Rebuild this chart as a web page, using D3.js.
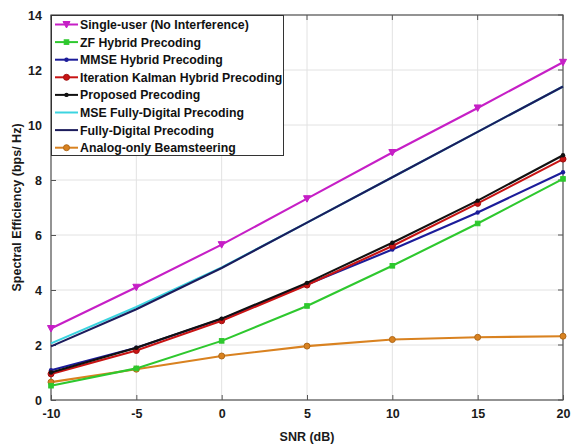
<!DOCTYPE html>
<html>
<head>
<meta charset="utf-8">
<script src="https://cdn.jsdelivr.net/npm/d3@7"></script>
<style>
  body { margin: 0; background: #fff; }
  svg { font-family: "Liberation Sans", Arial, sans-serif; font-weight: bold; }
</style>
</head>
<body>
<svg id="chart"></svg>
<script>
// SNR values and tick labels
const snr = [-10, -5, 0, 5, 10, 15, 20];
const xTicks = [-10, -5, 0, 5, 10, 15, 20];
const yTicks = [0, 2, 4, 6, 8, 10, 12, 14];

// series values
const singleUser = [2.6, 4.1, 5.65, 7.32, 9.0, 10.62, 12.28];
const zfHybrid = [0.52, 1.15, 2.15, 3.42, 4.88, 6.42, 8.04];
const mmseHybrid = [1.08, 1.9, 2.95, 4.2, 5.47, 6.82, 8.28];
const kalmanHybrid = [0.95, 1.8, 2.88, 4.18, 5.6, 7.15, 8.76];
const proposed = [1.0, 1.9, 2.96, 4.26, 5.72, 7.25, 8.9];
const mseDigital = [2.06, 3.38, 4.82, 6.45, 8.1, 9.75, 11.4];
const fullyDigital = [1.95, 3.3, 4.8, 6.45, 8.1, 9.75, 11.4];
const analogOnly = [0.65, 1.12, 1.6, 1.96, 2.2, 2.28, 2.32];

const series = [
  { name: "Single-user (No Interference)", values: singleUser, color: "#c61fc6", marker: "tri" },
  { name: "ZF Hybrid Precoding", values: zfHybrid, color: "#2ec82e", marker: "square" },
  { name: "MMSE Hybrid Precoding", values: mmseHybrid, color: "#1c1c9a", marker: "dot" },
  { name: "Iteration Kalman Hybrid Precoding", values: kalmanHybrid, color: "#c81414", marker: "circle" },
  { name: "Proposed Precoding", values: proposed, color: "#111111", marker: "dot" },
  { name: "MSE Fully-Digital Precoding", values: mseDigital, color: "#3cd4e0", marker: "none" },
  { name: "Fully-Digital Precoding", values: fullyDigital, color: "#1c1c5c", marker: "none" },
  { name: "Analog-only Beamsteering", values: analogOnly, color: "#d98220", marker: "circle" }
];

const W = 576, H = 448;
const margin = { top: 15, right: 13, bottom: 48, left: 51 };
const innerW = W - margin.left - margin.right;
const innerH = H - margin.top - margin.bottom;

const svg = d3.select("#chart").attr("width", W).attr("height", H);
const g = svg.append("g").attr("transform", `translate(${margin.left},${margin.top})`);

const x = d3.scaleLinear().domain([-10, 20]).range([0, innerW]);
const y = d3.scaleLinear().domain([0, 14]).range([innerH, 0]);

// grid
g.append("g").selectAll("line").data(xTicks).join("line")
  .attr("x1", d => x(d)).attr("x2", d => x(d))
  .attr("y1", 0).attr("y2", innerH)
  .attr("stroke", "#e2e2e2");
g.append("g").selectAll("line").data(yTicks).join("line")
  .attr("x1", 0).attr("x2", innerW)
  .attr("y1", d => y(d)).attr("y2", d => y(d))
  .attr("stroke", "#e2e2e2");

// axes
const xAxis = g.append("g").attr("transform", `translate(0,${innerH})`)
  .call(d3.axisBottom(x).tickValues(xTicks).tickFormat(d => String(d))
    .tickSize(-5).tickPadding(9).tickSizeOuter(0));
const yAxis = g.append("g")
  .call(d3.axisLeft(y).tickValues(yTicks).tickFormat(d => String(d))
    .tickSize(-5).tickPadding(9).tickSizeOuter(0));
[xAxis, yAxis].forEach(a => {
  a.select(".domain").remove();
  a.selectAll("line").attr("stroke", "#555");
  a.selectAll("text").attr("font-size", 12.5).attr("font-weight", "bold").attr("fill", "#1a1a1a")
    .attr("font-family", "Liberation Sans, Arial, sans-serif");
});
// top/right ticks
g.append("g").selectAll("line").data(xTicks).join("line")
  .attr("x1", d => x(d)).attr("x2", d => x(d)).attr("y1", 0).attr("y2", 5).attr("stroke", "#555");
g.append("g").selectAll("line").data(yTicks).join("line")
  .attr("x1", innerW).attr("x2", innerW - 5).attr("y1", d => y(d)).attr("y2", d => y(d)).attr("stroke", "#555");

g.append("rect").attr("width", innerW).attr("height", innerH)
  .attr("fill", "none").attr("stroke", "#555").attr("stroke-width", 1.2);

// lines
const line = d3.line().x((d, i) => x(snr[i])).y(d => y(d));

function drawMarker(sel, s, cx, cy) {
  if (s.marker === "tri") {
    sel.append("path").attr("d", `M${cx - 3.5},${cy - 3}L${cx + 3.5},${cy - 3}L${cx},${cy + 3.5}Z`)
      .attr("fill", s.color).attr("stroke", s.color);
  } else if (s.marker === "square") {
    sel.append("rect").attr("x", cx - 2.3).attr("y", cy - 2.3).attr("width", 4.6).attr("height", 4.6)
      .attr("fill", s.color).attr("stroke", s.color);
  } else if (s.marker === "dot") {
    sel.append("circle").attr("cx", cx).attr("cy", cy).attr("r", 2.2).attr("fill", s.color);
  } else if (s.marker === "circle") {
    sel.append("circle").attr("cx", cx).attr("cy", cy).attr("r", 3)
      .attr("fill", s.color).attr("stroke", d3.color(s.color).darker(0.6)).attr("stroke-width", 1);
  }
}

const drawOrder = [7, 1, 2, 3, 4, 5, 6, 0];
drawOrder.forEach(k => {
  const s = series[k];
  g.append("path").datum(s.values)
    .attr("fill", "none").attr("stroke", s.color).attr("stroke-width", 2.1)
    .attr("d", line);
  const mg = g.append("g");
  s.values.forEach((v, i) => drawMarker(mg, s, x(snr[i]), y(v)));
});

// legend
const lg = g.append("g");
const rowH = 17.6;
lg.append("rect").attr("x", 0.5).attr("y", 0.5).attr("width", 232).attr("height", 140)
  .attr("fill", "#fff").attr("stroke", "#333").attr("stroke-width", 1);
series.forEach((s, i) => {
  const cy = 9.5 + i * rowH;
  lg.append("line").attr("x1", 4).attr("x2", 27).attr("y1", cy).attr("y2", cy)
    .attr("stroke", s.color).attr("stroke-width", 2);
  drawMarker(lg, s, 15.5, cy);
  lg.append("text").attr("x", 29).attr("y", cy + 4.5).attr("font-size", 12.3)
    .attr("fill", "#111").text(s.name);
});

// axis labels
svg.append("text").attr("x", margin.left + innerW / 2).attr("y", 441)
  .attr("text-anchor", "middle").attr("font-size", 12.5).attr("fill", "#1a1a1a").text("SNR (dB)");
svg.append("text").attr("transform", `translate(21,${margin.top + innerH / 2}) rotate(-90)`)
  .attr("text-anchor", "middle").attr("font-size", 12.5).attr("fill", "#1a1a1a")
  .text("Spectral Efficiency (bps/ Hz)");
</script>
</body>
</html>
